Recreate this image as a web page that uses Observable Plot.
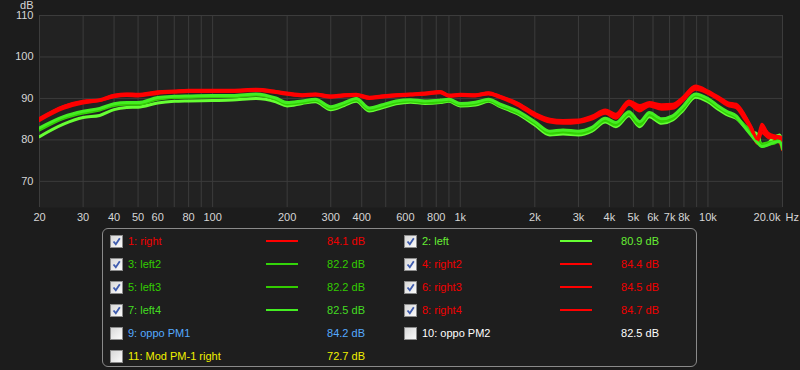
<!DOCTYPE html>
<html><head><meta charset="utf-8">
<script src="https://cdn.jsdelivr.net/npm/d3@7"></script>
<script src="https://cdn.jsdelivr.net/npm/@observablehq/plot@0.6"></script>
<style>
html,body{margin:0;padding:0;background:#1c1c1c;}
body{width:800px;height:370px;overflow:hidden;position:relative;font-family:"Liberation Sans",Arial,sans-serif;}
#chart{position:absolute;left:0;top:0;}
#legend{position:absolute;left:102px;top:228px;width:595px;height:139px;border:1px solid #8a8a8a;border-radius:6px;box-sizing:border-box;background:#1e1e1e;}
.cb{position:absolute;width:11px;height:11px;border:1px solid #8c8c8c;background:linear-gradient(135deg,#d8d8d8,#fbfbfb);}
.cb svg{position:absolute;left:0;top:0;}
.lab{position:absolute;font-size:11px;line-height:14px;white-space:nowrap;}
.val{position:absolute;font-size:11px;line-height:14px;width:70px;text-align:right;white-space:nowrap;}
.sw{position:absolute;width:32px;height:2px;}
</style>
</head><body>
<div id="chart"></div>
<div id="legend"></div>
<script>
// ---- data ----
const freqs = [20,25,30,35,40,45,50,60,70,80,100,120,150,180,200,230,260,300,340,380,430,480,550,630,720,830,900,1000,1150,1300,1450,1700,2000,2300,2600,3000,3400,3850,4250,4800,5300,5800,6500,7200,7900,8900,10000,11000,12000,13000,14000,15000,15800,16500,17500,18500,19500,20000];

const right  = [84.7,87.6,88.9,89.5,90.4,90.7,90.6,91.2,91.5,91.7,91.7,91.7,91.9,91.4,91.0,90.6,90.8,90.3,90.6,90.7,90.0,90.3,90.6,90.8,91.0,91.4,90.5,90.7,90.6,91.1,90.2,88.4,85.8,84.3,84.0,84.2,85.0,86.4,85.2,88.6,87.0,88.2,87.4,87.6,89.4,92.2,91.2,89.8,88.3,87.8,85.2,82.4,79.2,81.8,80.6,80.0,79.4,77.6];
const left   = [80.8,83.8,85.4,85.9,87.3,87.8,87.9,88.9,89.3,89.4,89.5,89.6,90.0,89.2,88.2,88.8,89.2,87.3,88.3,89.3,87.0,87.7,88.7,89.1,88.8,89.0,89.3,88.2,88.4,89.3,88.0,86.3,83.6,81.2,81.4,81.2,82.1,84.3,83.2,85.8,83.2,85.6,84.0,84.8,87.0,90.3,89.2,87.4,86.0,85.2,83.4,82.0,81.4,78.6,79.2,80.6,81.2,79.0];
const left2  = [82.4,85.2,86.5,87.2,88.3,88.6,88.6,89.8,90.2,90.3,90.4,90.4,90.8,89.8,88.6,89.0,89.5,87.6,88.6,89.6,87.3,88.0,89.0,89.4,89.0,89.2,89.5,88.4,88.7,89.5,88.2,86.6,84.0,81.6,81.9,81.6,82.5,84.7,83.6,86.2,83.6,86.0,84.4,85.2,87.4,90.7,89.6,87.8,86.4,85.4,83.6,81.8,79.8,79.0,79.3,79.6,80.6,78.6];
const right2 = [84.9,87.9,89.1,89.5,90.6,90.9,90.8,91.4,91.7,91.8,91.8,91.8,92.0,91.5,91.1,90.7,90.9,90.4,90.7,90.8,90.1,90.4,90.7,90.9,91.1,91.5,90.6,90.8,90.7,91.2,90.3,88.6,86.0,84.6,84.3,84.5,85.3,86.8,85.6,89.0,87.6,88.6,87.9,88.0,89.8,92.6,91.4,90.0,88.6,88.2,85.8,82.8,79.8,83.8,81.2,80.4,80.0,79.4];
const left3  = [82.6,85.4,86.7,87.4,88.5,88.8,88.8,90.0,90.3,90.4,90.5,90.5,90.9,89.9,88.8,89.2,89.6,87.8,88.8,89.8,87.5,88.2,89.2,89.5,89.2,89.4,89.6,88.6,88.9,89.6,88.4,86.8,84.2,81.9,82.1,81.9,82.8,85.0,83.9,86.5,84.0,86.3,84.8,85.5,87.7,90.9,89.8,88.0,86.6,85.6,83.4,81.2,80.6,78.4,79.0,79.2,80.2,79.0];
const right3 = [85.0,88.0,89.2,89.6,90.7,91.0,90.9,91.5,91.7,91.9,91.9,91.9,92.1,91.6,91.2,90.8,91.0,90.5,90.8,90.9,90.2,90.5,90.8,91.0,91.2,91.6,90.7,90.9,90.8,91.3,90.4,88.8,86.2,84.8,84.5,84.6,85.5,87.0,85.9,89.2,88.0,88.8,88.2,88.3,90.0,92.8,91.6,90.2,88.8,88.4,86.0,82.4,79.6,82.6,80.8,80.6,80.4,79.8];
const left4  = [82.9,85.6,86.9,87.6,88.7,89.0,89.0,90.2,90.5,90.6,90.7,90.7,91.1,90.1,89.0,89.4,89.8,88.0,89.0,90.0,87.7,88.4,89.4,89.7,89.4,89.6,89.8,88.8,89.1,89.8,88.6,87.0,84.4,82.1,82.4,82.1,83.0,85.2,84.2,86.8,84.4,86.6,85.1,85.8,88.0,91.1,90.0,88.2,86.8,85.8,83.2,81.0,79.4,78.4,78.8,79.4,79.6,77.8];
const right4 = [85.2,88.1,89.3,89.7,90.8,91.1,91.0,91.6,91.8,92.0,92.0,92.0,92.2,91.7,91.3,90.9,91.1,90.6,90.9,91.0,90.3,90.6,90.9,91.1,91.3,91.7,90.8,91.0,90.9,91.4,90.5,88.9,86.4,85.0,84.7,84.8,85.7,87.2,86.2,89.4,88.3,89.0,88.5,88.6,90.2,93.0,91.8,90.4,89.0,88.6,86.2,82.9,80.2,83.2,81.6,81.0,80.8,80.2];

const curveNames  = ["1: right","2: left","3: left2","4: right2","5: left3","6: right3","7: left4","8: right4"];
const curveValues = [right, left, left2, right2, left3, right3, left4, right4];

const legendNames   = ["1: right","2: left","3: left2","4: right2","5: left3","6: right3","7: left4","8: right4","9: oppo PM1","10: oppo PM2","11: Mod PM-1 right"];
const legendLevels  = [84.1,80.9,82.2,84.4,82.2,84.5,82.5,84.7,84.2,82.5,72.7];
const legendChecked = [true,true,true,true,true,true,true,true,false,false,false];

const xTickValues = [20,30,40,50,60,80,100,200,300,400,600,800,1000,2000,3000,4000,5000,6000,7000,8000,10000];
const xGridValues = [20,30,40,50,60,70,80,90,100,200,300,400,500,600,700,800,900,1000,2000,3000,4000,5000,6000,7000,8000,9000,10000,20000];
const yTickValues = [70,80,90,100,110];

// ---- styles ----
const lineColors  = ["#ff0000","#66ff33","#33d40a","#ff0000","#33cc00","#ff0000","#44ee22","#ff0000","#55aaff","#ffffff","#ffff00"];
const textColors  = ["#f00000","#66ee33","#33cc00","#f00000","#33cc00","#f00000","#44dd22","#f00000","#55aaff","#ffffff","#f0f000"];

const rows = [];
curveNames.forEach((name, k) => curveValues[k].forEach((v, i) => rows.push({f: freqs[i], db: v, s: name})));

const fmt = d => d < 1000 ? String(d) : (d / 1000) + "k";
const tickColor = "#d6d6d6";

const chart = Plot.plot({
  width: 800, height: 228,
  marginTop: 15, marginBottom: 21, marginLeft: 39, marginRight: 18,
  style: {background: "transparent", color: tickColor, fontFamily: "Liberation Sans, Arial, sans-serif", fontSize: "11px"},
  x: {type: "log", domain: [20, 20000], axis: null},
  y: {domain: [63.7, 110], axis: null},
  color: {domain: curveNames, range: curveNames.map((n, i) => lineColors[i])},
  marks: [
    Plot.frame({fill: "#222222", stroke: null}),
    Plot.gridX(xGridValues, {stroke: "#3c3c3c", strokeOpacity: 1}),
    Plot.gridY(yTickValues, {stroke: "#3c3c3c", strokeOpacity: 1}),
    Plot.text(yTickValues, {y: d => d, text: d => String(d), frameAnchor: "left", dx: -6, textAnchor: "end", fill: tickColor}),
    Plot.text(xTickValues, {x: d => d, text: fmt, frameAnchor: "bottom", lineAnchor: "top", dy: 6, fill: tickColor}),
    Plot.text([20000], {x: d => d, text: () => "20.0k", frameAnchor: "bottom", lineAnchor: "top", dy: 6, dx: -2, textAnchor: "end", fill: tickColor}),
    Plot.text([20000], {x: d => d, text: () => "Hz", frameAnchor: "bottom", lineAnchor: "top", dy: 6, dx: 3, textAnchor: "start", fill: tickColor}),
    Plot.text(["dB"], {frameAnchor: "top-left", dx: -6, dy: -7, lineAnchor: "bottom", textAnchor: "end", fill: tickColor}),
    Plot.line(rows, {x: "f", y: "db", z: "s", stroke: "s", strokeWidth: 3, curve: "monotone-x", clip: true})
  ]
});
document.getElementById("chart").appendChild(chart);

// ---- legend ----
const lg = document.getElementById("legend");
const colW = 294, rowH = 23, firstRow = 12;
legendNames.forEach((name, i) => {
  const col = i % 2, row = Math.floor(i / 2);
  const cy = firstRow + row * rowH;
  const x0 = col * colW;
  const cb = document.createElement("div");
  cb.className = "cb";
  cb.style.left = (x0 + 7) + "px";
  cb.style.top = (cy - 6) + "px";
  if (legendChecked[i]) {
    cb.innerHTML = '<svg width="11" height="11"><path d="M2.5 5.5 L4.8 8.2 L8.8 2.2" fill="none" stroke="#3f5cae" stroke-width="1.8"/></svg>';
  }
  lg.appendChild(cb);
  const lab = document.createElement("div");
  lab.className = "lab";
  lab.textContent = name;
  lab.style.left = (x0 + 25) + "px";
  lab.style.top = (cy - 7) + "px";
  lab.style.color = textColors[i];
  lg.appendChild(lab);
  if (legendChecked[i]) {
    const sw = document.createElement("div");
    sw.className = "sw";
    sw.style.left = (x0 + 163) + "px";
    sw.style.top = (cy - 1) + "px";
    sw.style.background = lineColors[i];
    lg.appendChild(sw);
  }
  const val = document.createElement("div");
  val.className = "val";
  val.textContent = legendLevels[i].toFixed(1) + " dB";
  val.style.left = (x0 + 262 - 70) + "px";
  val.style.top = (cy - 7) + "px";
  val.style.color = textColors[i];
  lg.appendChild(val);
});
</script>
</body></html>
